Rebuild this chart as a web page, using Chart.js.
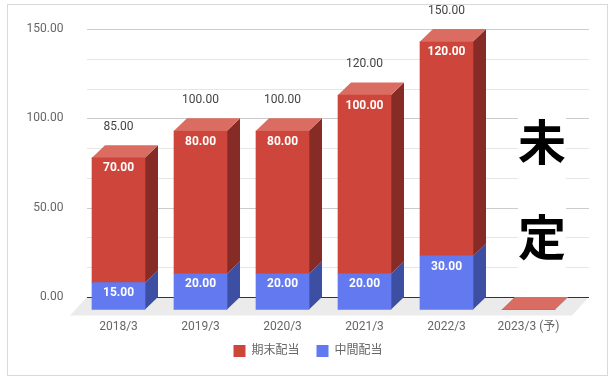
<!DOCTYPE html>
<html>
<head>
<meta charset="utf-8">
<script src="https://cdn.jsdelivr.net/npm/chart.js@4.4.0/dist/chart.umd.min.js"></script>
<style>
  html, body { margin: 0; padding: 0; background: #fff; }
  #wrap { position: relative; width: 616px; height: 382px; }
</style>
</head>
<body>
<div id="wrap"><canvas id="chart"></canvas></div>
<script>
// --- Data ---
const categories = ['2018/3', '2019/3', '2020/3', '2021/3', '2022/3', '2023/3 (予)'];
const interimDividend = [15, 20, 20, 20, 30, 0];    // 中間配当
const yearEndDividend = [70, 80, 80, 100, 120, 0];  // 期末配当
const seriesNames = ['中間配当', '期末配当'];
const yTickValues = [0, 50 / 3, 100 / 3, 50, 200 / 3, 250 / 3, 100, 350 / 3, 400 / 3, 150];
const undecidedText = ['未', '定'];

// --- Styles ---
const frontColors = ['#6279ef', '#ce463b'];
const topColors = ['#8193f3', '#da6c61'];
const sideColors = ['#3c4fa3', '#872b27'];
const DX = 13, DY = 12.5;   // depth of the 3D bars
const FONT = 'Roboto, "Noto Sans CJK JP", sans-serif';

Chart.defaults.font.family = FONT;
Chart.defaults.font.size = 12;

// floor, gridlines and the side/top faces of the bars
const depthPlugin = {
    id: 'depth',
    beforeDatasetsDraw(chart) {
        const { ctx, chartArea: a, scales: { y } } = chart;
        const gl = a.left - 3.5, gr = a.right + 6.5;
        ctx.save();

        // floor
        ctx.fillStyle = '#ebebeb';
        ctx.beginPath();
        ctx.moveTo(gl, a.bottom);
        ctx.lineTo(gr, a.bottom);
        ctx.lineTo(gr - 17, a.bottom + 18.5);
        ctx.lineTo(gl - 17, a.bottom + 18.5);
        ctx.closePath();
        ctx.fill();

        // gridlines
        y.ticks.forEach((t, i) => {
            if (i === 0) return;
            const py = Math.round(y.getPixelForValue(t.value)) + 0.5;
            ctx.strokeStyle = i % 3 === 0 ? '#cccccc' : '#e6e6e6';
            ctx.lineWidth = 1;
            ctx.beginPath();
            ctx.moveTo(gl, py);
            ctx.lineTo(gr, py);
            ctx.stroke();
        });
        const zy = Math.round(y.getPixelForValue(0)) + 0.5;
        ctx.strokeStyle = '#333333';
        ctx.beginPath();
        ctx.moveTo(gl, zy);
        ctx.lineTo(gr, zy);
        ctx.stroke();

        // side and top faces
        chart.data.datasets.forEach((ds, di) => {
            chart.getDatasetMeta(di).data.forEach(bar => {
                const { x, y: top, base, width } = bar.getProps(['x', 'y', 'base', 'width'], true);
                const l = x - width / 2 - DX, r = x + width / 2 - DX;
                const t = top + DY, b = base + DY;
                ctx.fillStyle = sideColors[di];
                ctx.beginPath();
                ctx.moveTo(r, t);
                ctx.lineTo(r + DX, t - DY);
                ctx.lineTo(r + DX, b - DY);
                ctx.lineTo(r, b);
                ctx.closePath();
                ctx.fill();
                ctx.fillStyle = topColors[di];
                ctx.beginPath();
                ctx.moveTo(l, t);
                ctx.lineTo(l + DX, t - DY);
                ctx.lineTo(r + DX, t - DY);
                ctx.lineTo(r, t);
                ctx.closePath();
                ctx.fill();
            });
        });
        ctx.restore();

        // front faces are drawn shifted forward
        ctx.save();
        ctx.translate(-DX, DY);
    },
    afterDatasetsDraw(chart) {
        const { ctx } = chart;
        ctx.restore();
        ctx.save();
        ctx.textAlign = 'center';
        ctx.textBaseline = 'middle';

        // values inside the segments
        ctx.font = 'bold 12px ' + FONT;
        ctx.fillStyle = '#ffffff';
        chart.data.datasets.forEach((ds, di) => {
            chart.getDatasetMeta(di).data.forEach((bar, i) => {
                const v = ds.data[i];
                if (!v) return;
                ctx.fillText(v.toFixed(2), bar.x - DX, bar.y + DY + 10.7);
            });
        });

        // stack totals
        ctx.font = '12px ' + FONT;
        ctx.fillStyle = '#444444';
        const topMeta = chart.getDatasetMeta(chart.data.datasets.length - 1);
        topMeta.data.forEach((bar, i) => {
            const total = interimDividend[i] + yearEndDividend[i];
            if (!total) return;
            ctx.fillText(total.toFixed(2), bar.x - DX, bar.y - 18.4);
        });
        ctx.restore();
    },
    afterDraw(chart) {
        const { ctx } = chart;
        ctx.save();
        // frame
        ctx.strokeStyle = '#d9d9d9';
        ctx.lineWidth = 1;
        ctx.strokeRect(7.5, 4.5, 600, 371);

        // "未定" note over the last category
        ctx.fillStyle = '#ffffff';
        ctx.fillRect(518, 113, 48, 159);
        ctx.fillStyle = '#000000';
        ctx.font = 'bold 48px "Noto Sans CJK JP", sans-serif';
        ctx.textAlign = 'center';
        ctx.textBaseline = 'middle';
        ctx.fillText(undecidedText[0], 542, 142);
        ctx.fillText(undecidedText[1], 542, 236.5);
        ctx.restore();
    }
};

const ctx = document.getElementById('chart').getContext('2d');
new Chart(ctx, {
    type: 'bar',
    data: {
        labels: categories,
        datasets: [{
            label: seriesNames[0],
            data: interimDividend,
            backgroundColor: frontColors[0],
            clip: false
        }, {
            label: seriesNames[1],
            data: yearEndDividend,
            backgroundColor: frontColors[1],
            clip: false
        }]
    },
    options: {
        responsive: true,
        maintainAspectRatio: false,
        animation: false,
        barThickness: 53,
        layout: {
            padding: { top: 29, right: 0, bottom: 15, left: 0 }
        },
        plugins: {
            legend: {
                position: 'bottom',
                reverse: true,
                labels: {
                    boxWidth: 12,
                    boxHeight: 12,
                    padding: 17,
                    color: '#666666',
                    font: { size: 12 }
                }
            },
            tooltip: { enabled: false }
        },
        scales: {
            x: {
                stacked: true,
                grid: { display: false, drawTicks: false },
                border: { display: false },
                ticks: {
                    color: '#666666',
                    // mirrored labels are not clipped to the (short) axis box
                    mirror: true,
                    padding: -37,
                    labelOffset: -DX,
                    maxRotation: 0,
                    autoSkip: false
                },
                afterFit(s) { s.height = 31; }
            },
            y: {
                stacked: true,
                min: 0,
                max: 150,
                grid: { display: false, drawTicks: false },
                border: { display: false },
                afterBuildTicks(s) {
                    s.ticks = yTickValues.map(v => ({ value: v }));
                },
                ticks: {
                    color: '#666666',
                    padding: 27,
                    callback: (v, i) => (i % 3 === 0 ? v.toFixed(2) : '')
                },
                afterFit(s) {
                    s.width = 90.5;
                    s.paddingTop = 0;
                    s.paddingBottom = 0;
                }
            },
            yRight: {
                position: 'right',
                type: 'linear',
                display: true,
                grid: { display: false, drawTicks: false },
                border: { display: false },
                ticks: { display: false },
                afterFit(s) { s.width = 33.5; }
            }
        }
    },
    plugins: [depthPlugin]
});
</script>
</body>
</html>
